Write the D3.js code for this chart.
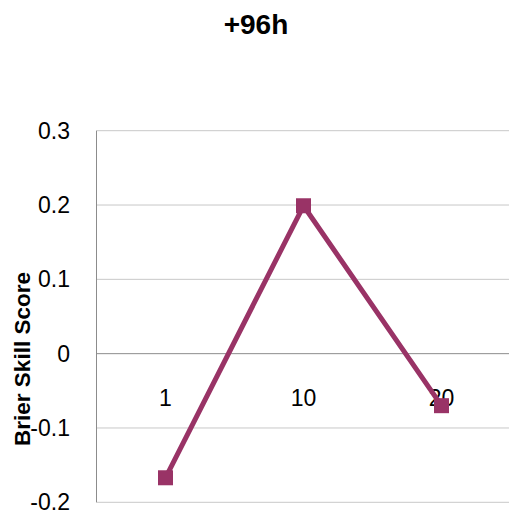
<!DOCTYPE html>
<html>
<head>
<meta charset="utf-8">
<script src="https://cdn.jsdelivr.net/npm/d3@7"></script>
<style>
  html, body { margin: 0; padding: 0; background: #fff; }
  svg { display: block; }
</style>
</head>
<body>
<script>
// Brier Skill Score at +96h lead time, by ensemble size
const categories = ["1", "10", "20"];
const bssValues = [-0.167, 0.199, -0.07];
const yTicks = [-0.2, -0.1, 0, 0.1, 0.2, 0.3];
const yTickLabels = ["-0.2", "-0.1", "0", "0.1", "0.2", "0.3"];
const chartTitle = "+96h";
const yAxisTitle = "Brier Skill Score";

const width = 509, height = 514;
const plot = { left: 96.5, right: 510.5, top: 130.7, bottom: 502.3 };
const lineColor = "#993366";
const font = "'Liberation Sans', Arial, sans-serif";

const svg = d3.select("body").append("svg")
  .attr("width", width).attr("height", height);

const x = d3.scaleBand().domain(categories).range([plot.left, plot.right]);
const y = d3.scaleLinear().domain([-0.2, 0.3]).range([plot.bottom, plot.top]);

// horizontal gridlines
svg.append("g").selectAll("line").data(yTicks.filter(d => d !== 0)).join("line")
  .attr("x1", plot.left).attr("x2", plot.right)
  .attr("y1", d => y(d)).attr("y2", d => y(d))
  .attr("stroke", "#c8c8c8").attr("stroke-width", 1);

// value axis (vertical) and category axis at zero
svg.append("line")
  .attr("x1", plot.left).attr("x2", plot.left)
  .attr("y1", plot.top).attr("y2", plot.bottom)
  .attr("stroke", "#8c8c8c").attr("stroke-width", 1);
svg.append("line")
  .attr("x1", plot.left).attr("x2", plot.right)
  .attr("y1", y(0)).attr("y2", y(0))
  .attr("stroke", "#8c8c8c").attr("stroke-width", 1);

// y tick labels
svg.append("g").selectAll("text").data(yTicks).join("text")
  .attr("x", 70).attr("y", d => y(d))
  .attr("dy", "0.35em")
  .attr("text-anchor", "end")
  .attr("font-family", font).attr("font-size", 23)
  .attr("fill", "#000")
  .text((d, i) => yTickLabels[i]);

// category labels next to the zero axis
svg.append("g").selectAll("text").data(categories).join("text")
  .attr("x", d => x(d) + x.bandwidth() / 2)
  .attr("y", y(0) + 44)
  .attr("dy", "0.35em")
  .attr("text-anchor", "middle")
  .attr("font-family", font).attr("font-size", 23)
  .attr("fill", "#000")
  .text(d => d);

// series line
const pts = categories.map((c, i) => [x(c) + x.bandwidth() / 2, y(bssValues[i])]);
svg.append("path")
  .attr("d", d3.line()(pts))
  .attr("fill", "none")
  .attr("stroke", lineColor)
  .attr("stroke-width", 5)
  .attr("stroke-linejoin", "round");

// square markers
const m = 15;
svg.append("g").selectAll("rect").data(pts).join("rect")
  .attr("x", d => d[0] - m / 2).attr("y", d => d[1] - m / 2)
  .attr("width", m).attr("height", m)
  .attr("fill", lineColor);

// title
svg.append("text")
  .attr("x", 256).attr("y", 24)
  .attr("dy", "0.35em")
  .attr("text-anchor", "middle")
  .attr("font-family", font).attr("font-size", 28).attr("font-weight", "bold")
  .text(chartTitle);

// y axis title
svg.append("text")
  .attr("transform", `translate(22, 359) rotate(-90)`)
  .attr("dy", "0.35em")
  .attr("text-anchor", "middle")
  .attr("font-family", font).attr("font-size", 22.5).attr("font-weight", "bold")
  .text(yAxisTitle);
</script>
</body>
</html>
